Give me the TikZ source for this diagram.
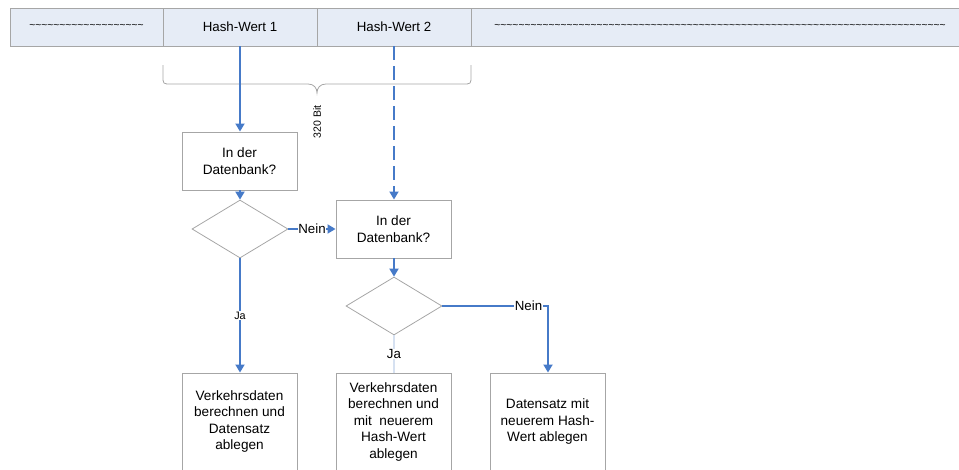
\documentclass[tikz,border=0pt]{standalone}
\usepackage{fontspec}
\setmainfont{Liberation Sans}
\usetikzlibrary{shapes.geometric,arrows.meta}
\definecolor{flowblue}{RGB}{70,122,200}
\definecolor{faintblue}{RGB}{214,225,241}
\definecolor{framegray}{RGB}{166,166,166}
\definecolor{barfill}{RGB}{230,236,246}
% a run of #1 tilde characters
\newcount\wavecount
\newcommand{\waverun}[1]{\wavecount=0\relax
  \loop\ifnum\wavecount<#1\relax\textasciitilde\advance\wavecount by 1\relax\repeat}
\tikzset{
  cell/.style={draw=framegray, fill=barfill, line width=0.9pt, inner sep=0pt,
    minimum height=38pt, font=\fontsize{13.3}{16.5}\selectfont},
  stepbox/.style={draw=framegray, line width=0.9pt, fill=white, inner sep=0pt,
    minimum width=115pt, align=center, font=\fontsize{13.6}{16.5}\selectfont},
  decision/.style={diamond, draw=framegray, line width=0.8pt, inner sep=0pt,
    aspect=1.655, minimum width=96pt, minimum height=58pt},
  flow/.style={draw=flowblue, line width=1.8pt,
    -{Triangle[width=9pt,length=8pt]}},
  lbl/.style={fill=white, inner sep=0.5pt, text=black},
  tildes/.style={font=\fontsize{10.3}{12}\selectfont}
}
\begin{document}
\begin{tikzpicture}[x=1pt, y=-1pt]
\useasboundingbox (0,0) rectangle (959,469);

% field layout bar
\node[cell, minimum width=153pt] (f0) at (86.5,27) {};
\node[tildes] (t0) at (86.5,26) {\waverun{19}};
\node[cell, minimum width=154pt] (f1) at (240,27) {Hash-Wert 1};
\node[cell, minimum width=154pt] (f2) at (394,27) {Hash-Wert 2};
\node[cell, minimum width=492pt] (f3) at (717,27) {};
\node[tildes] (t3) at (720,26) {\waverun{75}};

% brace spanning both hash values
\draw[framegray, line width=0.8pt]
  (163,65) -- (163,76) .. controls (163,84) .. (171,84) -- (308,84)
  .. controls (314,84) and (317,88) .. (317,93)
  .. controls (317,88) and (320,84) .. (326,84) -- (463,84)
  .. controls (471,84) .. (471,76) -- (471,65);
\node[rotate=90, font=\fontsize{10.5}{12}\selectfont] (bits) at (317,122) {320 Bit};

% process steps
\node[stepbox, minimum height=58pt] (q1) at (239.5,161) {In der\\Datenbank?};
\node[decision] (d1) at (240,229) {};
\node[stepbox, minimum height=58pt] (q2) at (393.5,229) {In der\\Datenbank?};
\node[decision] (d2) at (394,306) {};
\node[stepbox, minimum height=97pt] (s1) at (239.5,421.5)
  {Verkehrsdaten\\berechnen und\\Datensatz\\ablegen};
\node[stepbox, minimum height=97pt] (s2) at (393.5,421.5)
  {Verkehrsdaten\\berechnen und\\mit~~neuerem\\Hash-Wert\\ablegen};
\node[stepbox, minimum height=97pt] (s3) at (547.5,421.5)
  {Datensatz mit\\neuerem Hash-\\Wert ablegen};

% connectors
\draw[flow] (f1.south) -- (f1.south |- q1.north);
\draw[flow, dash pattern=on 14pt off 6pt] (f2.south) -- (f2.south |- q2.north);
\draw[flow] (d1.north |- q1.south) -- (d1.north);
\draw[flow] (d1.east) -- node[lbl, font=\fontsize{13.3}{15}\selectfont] (n1) {Nein} (q2.west);
\draw[flow] (d1.south) -- node[lbl, pos=0.5, font=\fontsize{10.8}{13}\selectfont] (j1) {Ja} (s1.north -| d1.south);
\draw[flow] (d2.north |- q2.south) -- (d2.north);
\draw[flow] (d2.east) -- (548,306) -- (s3.north -| 548,0);
\node[lbl, font=\fontsize{13.3}{15}\selectfont] (n2) at (528.5,306) {Nein};
\draw[faintblue, line width=1.8pt] (d2.south) -- (s2.north -| d2.south);
\node[lbl, font=\fontsize{13.3}{15}\selectfont] (j2) at (394,354) {Ja};
\end{tikzpicture}
\end{document}
